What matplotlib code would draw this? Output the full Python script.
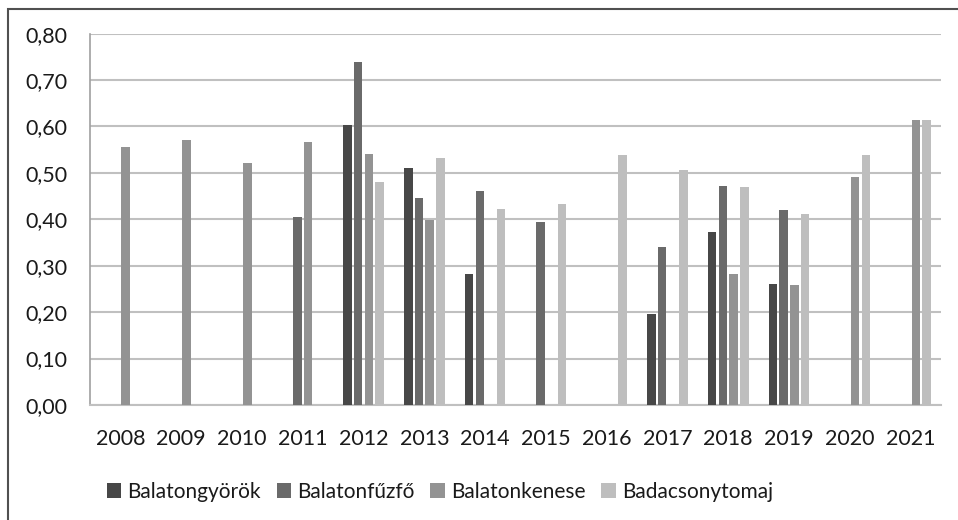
import numpy as np
import matplotlib.pyplot as plt
from matplotlib.patches import Rectangle
from matplotlib.ticker import FuncFormatter

years = ['2008', '2009', '2010', '2011', '2012', '2013', '2014',
         '2015', '2016', '2017', '2018', '2019', '2020', '2021']
series = ['Balatongyörök', 'Balatonfűzfő', 'Balatonkenese', 'Badacsonytomaj']

# NaN = no bar in that year
balatongyorok = [np.nan, np.nan, np.nan, np.nan, 0.604, 0.510, 0.282,
                 np.nan, np.nan, 0.197, 0.372, 0.261, np.nan, np.nan]
balatonfuzfo = [np.nan, np.nan, np.nan, 0.406, 0.739, 0.446, 0.461,
                0.395, np.nan, 0.341, 0.472, 0.420, np.nan, np.nan]
balatonkenese = [0.556, 0.571, 0.522, 0.566, 0.541, 0.398, np.nan,
                 np.nan, np.nan, np.nan, 0.282, 0.259, 0.491, 0.614]
badacsonytomaj = [np.nan, np.nan, np.nan, np.nan, 0.481, 0.532, 0.423,
                  0.433, 0.538, 0.506, 0.470, 0.412, 0.539, 0.613]

values = [balatongyorok, balatonfuzfo, balatonkenese, badacsonytomaj]
colors = ['#474747', '#6a6a6a', '#939393', '#bebebe']

plt.rcParams['font.family'] = ['Lato', 'DejaVu Sans']

W, H = 958, 520
fig = plt.figure(figsize=(W / 100, H / 100), dpi=100)
ax = fig.add_axes([90 / W, (H - 405) / H, (941 - 90) / W, (405 - 33.6) / H])

x = np.arange(len(years))
step = 0.176
width = 0.14
handles = []
for i, (vals, col) in enumerate(zip(values, colors)):
    b = ax.bar(x + (i - 1.5) * step, vals, width=width, color=col,
               label=series[i], zorder=3)
    handles.append(b)

ax.set_xlim(-0.5, len(years) - 0.5)
ax.set_ylim(0, 0.8)
ax.set_yticks(np.arange(0, 0.81, 0.1))
ax.yaxis.set_major_formatter(FuncFormatter(lambda v, p: f'{v:.2f}'.replace('.', ',')))
ax.set_xticks(x)
ax.set_xticklabels(years)
ax.tick_params(length=0, labelsize=15.5, colors='#1a1a1a')
ax.tick_params(axis='y', pad=16.5)
ax.tick_params(axis='x', pad=17)
ax.grid(axis='y', color='#c0c0c0', linewidth=1.5, zorder=0)
for s in ['top', 'right']:
    ax.spines[s].set_visible(False)
ax.spines['bottom'].set_color('#c0c0c0')
ax.spines['bottom'].set_linewidth(1.5)
ax.spines['left'].set_color('#a0a0a0')
ax.spines['left'].set_linewidth(1.2)

fig.legend(handles=handles, loc='center', bbox_to_anchor=(440 / W, 1 - 492 / H),
           ncol=4, frameon=False, fontsize=15, handlelength=0.7,
           handleheight=0.7, handletextpad=0.3, columnspacing=0.75,
           labelcolor='#1a1a1a')

# outer chart frame (cut off at right and bottom)
fig.patches.append(Rectangle((8 / W, -0.1), 2, (H - 9) / H + 0.1,
                             transform=fig.transFigure, fill=False,
                             edgecolor='#505050', linewidth=1.5))

plt.savefig('out.png', dpi=100)
